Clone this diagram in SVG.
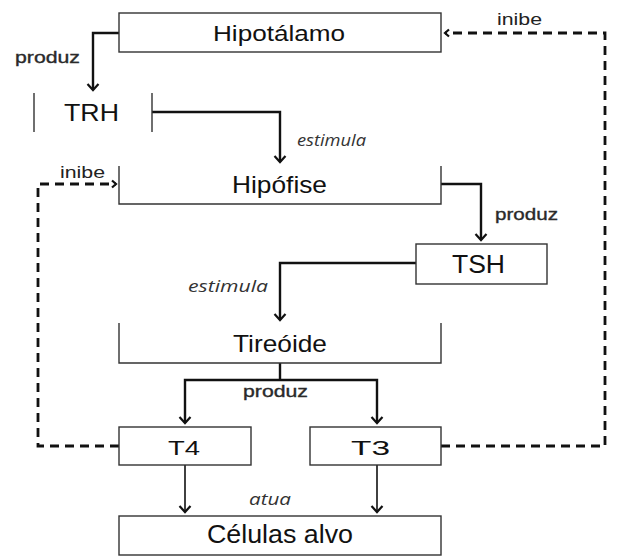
<svg xmlns="http://www.w3.org/2000/svg" width="617" height="556" viewBox="0 0 617 556">
<style>
.box{fill:#fff;stroke:#333;stroke-width:1.4}
.edge{fill:none;stroke:#333;stroke-width:1.4}
.t{font-family:"Liberation Sans",Arial,sans-serif;fill:#111}
.lbl{font-family:"Liberation Sans",Arial,sans-serif;fill:#2a2a2a;font-size:17px;stroke:#2a2a2a;stroke-width:0.35}
.inh{font-family:"Liberation Sans",Arial,sans-serif;fill:#222;font-size:16px}
.it{font-family:"Open Sans","DejaVu Sans",sans-serif;font-style:italic;fill:#333;font-size:16px}
.thick{fill:none;stroke:#111;stroke-width:2.4}
.thin{fill:none;stroke:#111;stroke-width:1.6}
.dash{fill:none;stroke:#111;stroke-width:2.8;stroke-dasharray:9 6}
</style>
<defs>
<marker id="ah" markerUnits="userSpaceOnUse" markerWidth="16" markerHeight="16" refX="8" refY="8" orient="auto" viewBox="0 0 16 16">
<path d="M2,2.5 L8,8 L2,13.5" fill="none" stroke="#111" stroke-width="2.2"/>
</marker>
<marker id="ahs" markerUnits="userSpaceOnUse" markerWidth="12" markerHeight="12" refX="6" refY="6" orient="auto" viewBox="0 0 12 12">
<path d="M2,2.5 L6,6 L2,9.5" fill="none" stroke="#111" stroke-width="2.2"/>
</marker>
</defs>
<rect width="617" height="556" fill="#fff"/>

<g id="connectors">
<path class="thick" d="M119,33 H93 V90" marker-end="url(#ah)"/>
<path class="thick" d="M152,112 H280 V162" marker-end="url(#ah)"/>
<path class="thick" d="M441,184 H481 V240" marker-end="url(#ah)"/>
<path class="thick" d="M416,263 H280 V320" marker-end="url(#ah)"/>
<path class="thick" d="M280,363 V380"/>
<path class="thick" d="M280,380 H185 V423" marker-end="url(#ah)"/>
<path class="thick" d="M280,380 H377 V423" marker-end="url(#ah)"/>
<path class="thin" d="M185,465 V512" marker-end="url(#ah)"/>
<path class="thin" d="M377,465 V512" marker-end="url(#ah)"/>
<path class="dash" d="M441,446 H605 V33 H445" marker-end="url(#ahs)"/>
<path class="dash" d="M119,446 H38 V184 H116" marker-end="url(#ahs)"/>
<text class="lbl" x="15" y="63" textLength="65" lengthAdjust="spacingAndGlyphs">produz</text>
<text class="it" x="297" y="146" textLength="69" lengthAdjust="spacingAndGlyphs">estimula</text>
<text class="lbl" x="495" y="220" textLength="63" lengthAdjust="spacingAndGlyphs">produz</text>
<text class="it" x="188" y="292" textLength="80" lengthAdjust="spacingAndGlyphs">estimula</text>
<text class="lbl" x="243" y="397" textLength="65" lengthAdjust="spacingAndGlyphs">produz</text>
<text class="inh" x="497" y="25" textLength="45" lengthAdjust="spacingAndGlyphs">inibe</text>
<text class="inh" x="60" y="178" textLength="45" lengthAdjust="spacingAndGlyphs">inibe</text>
<text class="it" x="249" y="505" textLength="42" lengthAdjust="spacingAndGlyphs">atua</text>
</g>

<g id="hipotalamo">
<rect class="box" x="119" y="13" width="322" height="39"/>
<text class="t" x="213" y="41" font-size="22" textLength="132" lengthAdjust="spacingAndGlyphs">Hipotálamo</text>
</g>
<g id="trh">
<path class="edge" d="M34,93 V132 M152,93 V132"/>
<text class="t" x="64" y="121" font-size="24" textLength="55" lengthAdjust="spacingAndGlyphs">TRH</text>
</g>
<g id="hipofise">
<path class="edge" d="M119,166 V204 H441 V166"/>
<text class="t" x="232" y="193" font-size="24" textLength="95" lengthAdjust="spacingAndGlyphs">Hipófise</text>
</g>
<g id="tsh">
<rect class="box" x="416" y="244" width="131" height="40"/>
<text class="t" x="452" y="273" font-size="26" textLength="53" lengthAdjust="spacingAndGlyphs">TSH</text>
</g>
<g id="tireoide">
<path class="edge" d="M119,323 V363 H441 V323"/>
<text class="t" x="233" y="352" font-size="24" textLength="94" lengthAdjust="spacingAndGlyphs">Tireóide</text>
</g>
<g id="t4">
<rect class="box" x="119" y="427" width="132" height="38"/>
<text class="t" x="168" y="455" font-size="21" textLength="32" lengthAdjust="spacingAndGlyphs">T4</text>
</g>
<g id="t3">
<rect class="box" x="310" y="427" width="131" height="38"/>
<text class="t" x="351" y="455" font-size="21" textLength="39" lengthAdjust="spacingAndGlyphs">T3</text>
</g>
<g id="celulas">
<rect class="box" x="119" y="516" width="322" height="39"/>
<text class="t" x="207" y="543" font-size="26" textLength="146" lengthAdjust="spacingAndGlyphs">Células alvo</text>
</g>
</svg>
